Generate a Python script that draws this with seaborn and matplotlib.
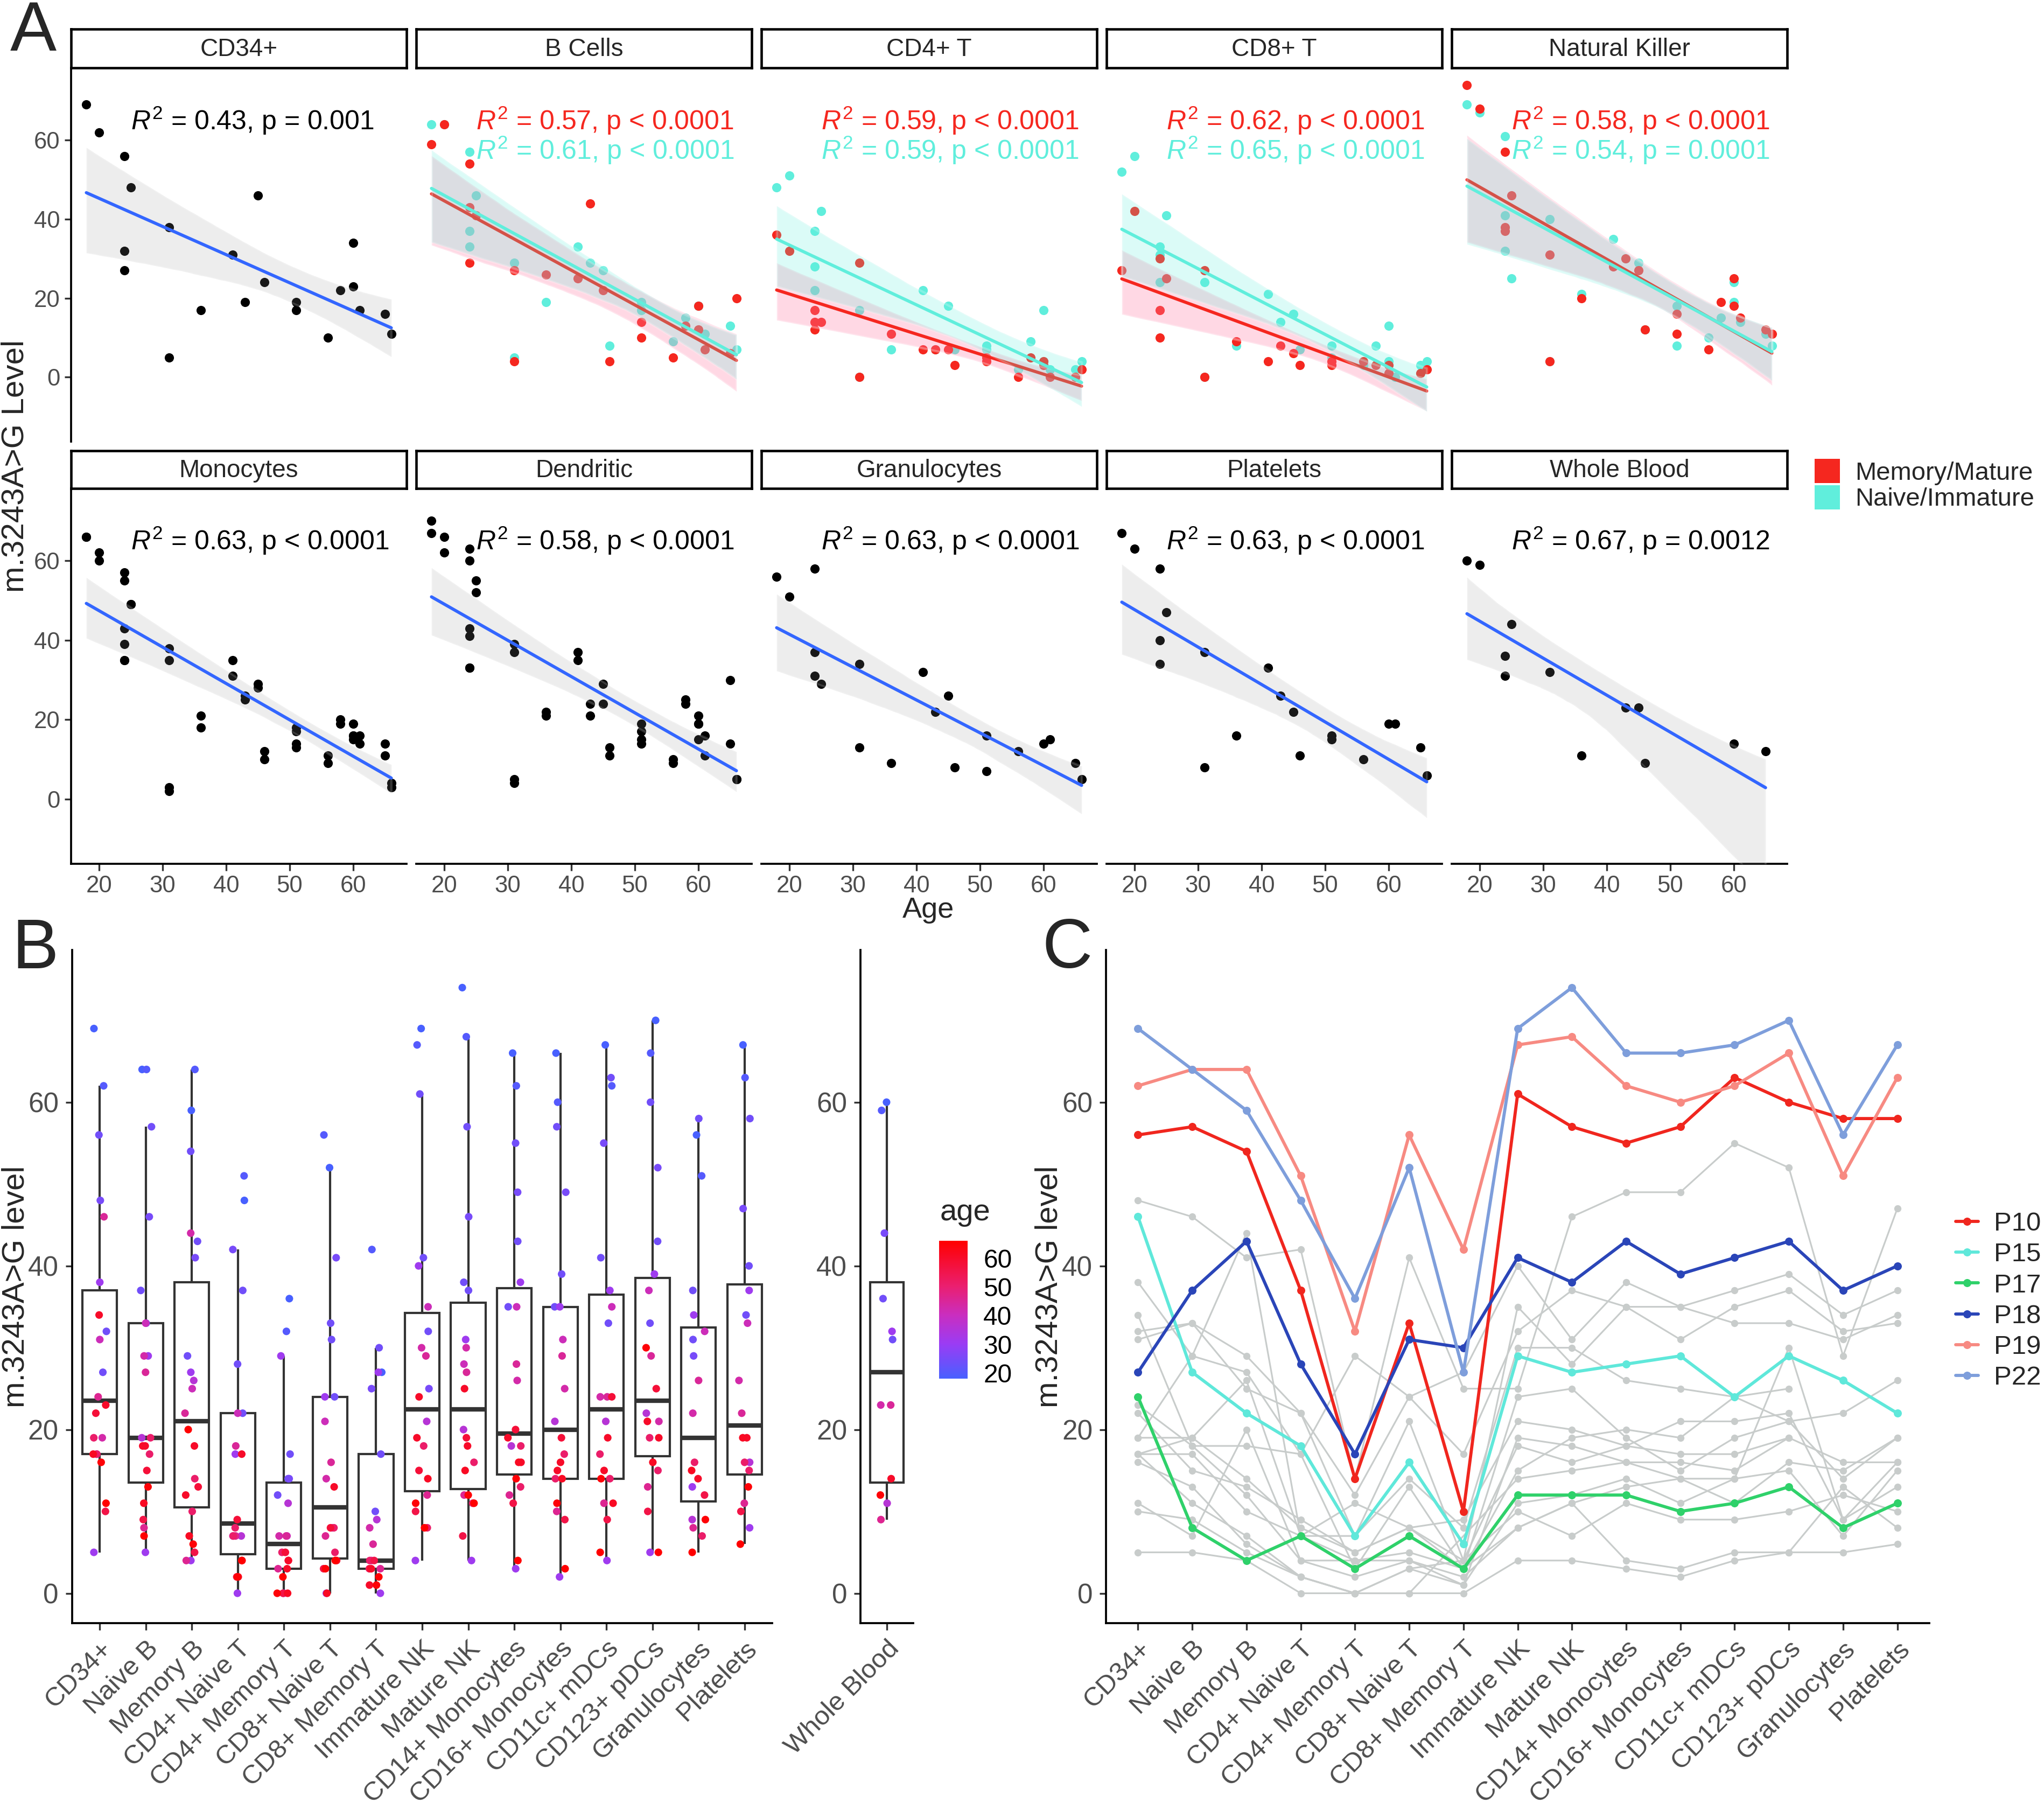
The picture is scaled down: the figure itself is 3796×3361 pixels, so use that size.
import numpy as np
import pandas as pd
import matplotlib
matplotlib.use("Agg")
import matplotlib.pyplot as plt
import seaborn as sns
from matplotlib.colors import LinearSegmentedColormap, Normalize
from matplotlib.cm import ScalarMappable
from matplotlib.patches import Patch
from matplotlib.lines import Line2D

sns.set_theme(style="white")
plt.rcParams["font.family"] = ["Liberation Sans", "DejaVu Sans"]
plt.rcParams["mathtext.fontset"] = "custom"
plt.rcParams["mathtext.rm"] = "Liberation Sans"
plt.rcParams["mathtext.it"] = "Liberation Sans:italic"

nan = np.nan
# ---------------- data ----------------
patients = ["P22", "P19", "P10", "P18", "P1", "P2", "P3", "P4", "P5", "P6", "P7",
            "P15", "P17", "P8", "P9", "P11", "P12", "P13", "P14", "P16", "P20", "P21"]
ages = [18, 20, 24, 24, 24, 25, 31, 31, 36, 41, 43, 45, 46, 51, 51, 56, 58, 60, 60, 61, 65, 66]

cd34 = [69, 62, 56, 27, 32, 48, 38, 5, 17, 31, 19, 46, 24, 19, 17, 10, 22, 34, 23, 17, 16, 11]
naive_b = [64, 64, 57, 37, 33, 46, 29, 5, 19, 33, 29, 27, 8, 19, 17, 9, 15, 18, 18, 11, 13, 7]
memory_b = [59, 64, 54, 43, 29, 41, 27, 4, 26, 25, 44, 22, 4, 14, 10, 5, 13, 18, 12, 7, 6, 20]
cd4_naive = [48, 51, 37, 28, 22, 42, 17, 0, 7, 22, 7, 18, 7, 8, 7, 2, 9, 17, 4, 2, 2, 4]
cd4_memory = [36, 32, 14, 17, 12, 14, 29, 0, 11, 7, 7, 7, 3, 5, 4, 0, 5, 3, 4, 0, 0, 2]
cd8_naive = [52, 56, 33, 31, 24, 41, 24, 0, 8, 21, 14, 16, 7, 8, 5, 3, 8, 13, 4, 0, 3, 4]
cd8_memory = [27, 42, 10, 30, 17, 25, 27, 0, 9, 4, 8, 6, 3, 4, 3, 4, 3, 3, 1, nan, 1, 2]
imm_nk = [69, 67, 61, 41, 32, 25, 40, 4, 21, 35, 30, 29, 12, 18, 8, 10, 15, 24, 19, 14, 11, 8]
mat_nk = [74, 68, 57, 38, 37, 46, 31, 4, 20, 28, 30, 27, 12, 16, 11, 7, 19, 25, 18, 15, 12, 11]
cd14 = [66, 62, 55, 43, 35, 49, 38, 3, 18, 35, 26, 28, 12, 18, 13, 11, 20, 19, 16, 16, 14, 4]
cd16 = [66, 60, 57, 39, 35, 49, 35, 2, 21, 31, 25, 29, 10, 17, 14, 9, 19, 15, 16, 14, 11, 3]
cd11c = [67, 62, 63, 41, 33, 55, 37, 4, 21, 35, 24, 24, 11, 17, 14, 9, 24, 19, 15, 11, 14, 5]
cd123 = [70, 66, 60, 43, 33, 52, 39, 5, 22, 37, 21, 29, 13, 19, 15, 10, 25, 21, 19, 16, 30, 5]
gran = [56, 51, 58, 37, 31, 29, 34, 13, 9, 32, 22, 26, 8, 16, 7, 12, nan, 14, nan, 15, 9, 5]
plat = [67, 63, 58, 40, 34, 47, 37, 8, 16, 33, 26, 22, 11, 16, 15, 10, nan, 19, nan, 19, 13, 6]
whole_blood = [60, 59, nan, 36, 31, 44, 32, nan, 11, nan, 23, 23, 9, nan, nan, nan, nan, 14, nan, nan, 12, nan]

cell_types = ["CD34+", "Naive B", "Memory B", "CD4+ Naive T", "CD4+ Memory T", "CD8+ Naive T",
              "CD8+ Memory T", "Immature NK", "Mature NK", "CD14+ Monocytes", "CD16+ Monocytes",
              "CD11c+ mDCs", "CD123+ pDCs", "Granulocytes", "Platelets"]
columns = [cd34, naive_b, memory_b, cd4_naive, cd4_memory, cd8_naive, cd8_memory, imm_nk, mat_nk,
           cd14, cd16, cd11c, cd123, gran, plat]

facet_titles = ["CD34+", "B Cells", "CD4+ T", "CD8+ T", "Natural Killer",
                "Monocytes", "Dendritic", "Granulocytes", "Platelets", "Whole Blood"]
facet_members = [
    [("CD34+", None)],
    [("Memory B", "Memory/Mature"), ("Naive B", "Naive/Immature")],
    [("CD4+ Memory T", "Memory/Mature"), ("CD4+ Naive T", "Naive/Immature")],
    [("CD8+ Memory T", "Memory/Mature"), ("CD8+ Naive T", "Naive/Immature")],
    [("Mature NK", "Memory/Mature"), ("Immature NK", "Naive/Immature")],
    [("CD14+ Monocytes", None), ("CD16+ Monocytes", None)],
    [("CD11c+ mDCs", None), ("CD123+ pDCs", None)],
    [("Granulocytes", None)],
    [("Platelets", None)],
    [("Whole Blood", None)],
]
facet_stats = [
    ["$R^2$ = 0.43, p = 0.001"],
    ["$R^2$ = 0.57, p < 0.0001", "$R^2$ = 0.61, p < 0.0001"],
    ["$R^2$ = 0.59, p < 0.0001", "$R^2$ = 0.59, p < 0.0001"],
    ["$R^2$ = 0.62, p < 0.0001", "$R^2$ = 0.65, p < 0.0001"],
    ["$R^2$ = 0.58, p < 0.0001", "$R^2$ = 0.54, p = 0.0001"],
    ["$R^2$ = 0.63, p < 0.0001"],
    ["$R^2$ = 0.58, p < 0.0001"],
    ["$R^2$ = 0.63, p < 0.0001"],
    ["$R^2$ = 0.63, p < 0.0001"],
    ["$R^2$ = 0.67, p = 0.0012"],
]
highlight = ["P10", "P15", "P17", "P18", "P19", "P22"]
highlight_colors = ["#F0261E", "#5FE8DA", "#2FD16A", "#2A45B8", "#F78A82", "#7E9EDB"]

# ---------------- tidy table ----------------
rows = []
for cname, col in zip(cell_types + ["Whole Blood"], columns + [whole_blood]):
    for p, a, v in zip(patients, ages, col):
        if not np.isnan(v):
            rows.append((p, a, cname, float(v)))
df = pd.DataFrame(rows, columns=["patient", "age", "cell", "value"])
df["pos"] = df["cell"].map({c: i for i, c in enumerate(cell_types)})

# ---------------- figure ----------------
W, H = 3796, 3361
fig = plt.figure(figsize=(W / 300, H / 300), dpi=300)

def fax(x0, y0, x1, y1):
    return fig.add_axes([x0 / W, 1 - y1 / H, (x1 - x0) / W, (y1 - y0) / H])

RED = "#F5271F"
CYAN = "#60EEDC"
BAND = {"Memory/Mature": ("#FF7FA8", 0.30), "Naive/Immature": ("#5FEFDD", 0.22)}
GCOL = {"Memory/Mature": RED, "Naive/Immature": CYAN}
TICKC = "#4D4D4D"

A_YLIM = (-16.3, 78.2)
lefts = [132 + 641 * i for i in range(5)]
row_y = [(127, 820), (907, 1604)]
strip_y = [(54, 126), (837, 907)]

for k, title in enumerate(facet_titles):
    r, c = divmod(k, 5)
    x0 = lefts[c]
    x1 = x0 + 623
    ax = fax(x0, row_y[r][0], x1, row_y[r][1])
    members = facet_members[k]
    sub = df[df["cell"].isin([m[0] for m in members])].copy()
    grp_map = {m[0]: m[1] for m in members}
    sub["group"] = sub["cell"].map(grp_map)
    if members[0][1] is None:
        sns.scatterplot(data=sub, x="age", y="value", color="black", s=17, linewidth=0,
                        ax=ax, legend=False, zorder=2)
        sns.regplot(data=sub, x="age", y="value", scatter=False, color="#3366FF", ci=95,
                    seed=1, n_boot=4000, ax=ax, line_kws={"lw": 1.4})
        band = ax.collections[-1]
        band.set_facecolor("#999999"); band.set_alpha(0.17); band.set_zorder(3)
        ax.lines[-1].set_zorder(4)
        ax.text(25, 65, facet_stats[k][0], fontsize=12, color="black", ha="left", va="center", zorder=6)
    else:
        for g in ["Naive/Immature", "Memory/Mature"]:
            sg = sub[sub["group"] == g]
            sns.scatterplot(data=sg, x="age", y="value", color=GCOL[g], s=17, linewidth=0,
                            ax=ax, legend=False, zorder=2)
        z = 3
        for g in ["Memory/Mature", "Naive/Immature"]:
            sg = sub[sub["group"] == g]
            sns.regplot(data=sg, x="age", y="value", scatter=False, color=GCOL[g], ci=95,
                        seed=1, n_boot=4000, ax=ax, line_kws={"lw": 1.4})
            band = ax.collections[-1]
            band.set_facecolor(BAND[g][0]); band.set_alpha(BAND[g][1]); band.set_zorder(z)
            ax.lines[-1].set_zorder(z + 1)
            z += 2
        ax.text(25, 65, facet_stats[k][0], fontsize=12, color=RED, ha="left", va="center", zorder=9)
        ax.text(25, 57.5, facet_stats[k][1], fontsize=12, color=CYAN, ha="left", va="center", zorder=9)
    ax.set_xlim(15.6, 68.4)
    ax.set_ylim(*A_YLIM)
    ax.set_xticks([20, 30, 40, 50, 60])
    ax.set_yticks([0, 20, 40, 60])
    ax.set_xlabel(""); ax.set_ylabel("")
    ax.set_facecolor("white")
    for s in ["top", "right"]:
        ax.spines[s].set_visible(False)
    ax.spines["left"].set_visible(c == 0)
    ax.spines["bottom"].set_visible(r == 1)
    for s in ["left", "bottom"]:
        ax.spines[s].set_color("black"); ax.spines[s].set_linewidth(0.9)
    ax.tick_params(axis="y", left=(c == 0), labelleft=(c == 0), length=3, width=0.8,
                   color="#333333", labelcolor=TICKC, labelsize=10.5, pad=2)
    ax.tick_params(axis="x", bottom=(r == 1), labelbottom=(r == 1), length=3, width=0.8,
                   color="#333333", labelcolor=TICKC, labelsize=10.5, pad=2)
    # strip
    sax = fax(x0, strip_y[r][0], x1, strip_y[r][1])
    sax.set_xticks([]); sax.set_yticks([])
    sax.set_facecolor("white")
    for s in sax.spines.values():
        s.set_visible(True); s.set_color("black"); s.set_linewidth(1.1)
    sax.text(0.5, 0.47, title, transform=sax.transAxes, ha="center", va="center", fontsize=11)

fig.text(29 / W, 1 - 865 / H, "m.3243A>G Level", rotation=90, ha="center", va="center", fontsize=14)
fig.text(1724 / W, 1 - 1690 / H, "Age", ha="center", va="center", fontsize=13)
fig.legend(handles=[Patch(facecolor=RED, edgecolor="none", label="Memory/Mature"),
                    Patch(facecolor=CYAN, edgecolor="none", label="Naive/Immature")],
           loc="upper left", bbox_to_anchor=(3370 / W, 1 - 852 / H), frameon=False,
           handlelength=1.0, handleheight=1.1, handletextpad=0.6, labelspacing=0.0,
           borderaxespad=0, borderpad=0, fontsize=11.3)

# ---------------- panel B ----------------
age_cmap = LinearSegmentedColormap.from_list(
    "age", [(0.0, "#4860FF"), (0.25, "#9A3CF4"), (0.46, "#C92EC0"), (0.67, "#EA1F70"), (1.0, "#FF0000")])
age_norm = Normalize(18, 66)
B_YLIM = (-3.65, 78.6)

np.random.seed(7)
cells_df = df[df["cell"] != "Whole Blood"]
axB = fax(134, 1764, 1434, 3014)
sns.boxplot(data=cells_df, x="cell", y="value", order=cell_types, ax=axB, color="white",
            linecolor="#333333", linewidth=1.0, width=0.75, showfliers=False, showcaps=False,
            medianprops={"linewidth": 2.0})
sns.stripplot(data=cells_df, x="cell", y="value", order=cell_types, hue="age", palette=age_cmap,
              hue_norm=age_norm, jitter=0.15, size=3.4, linewidth=0, ax=axB, legend=False, zorder=3)
axB.set_xlim(-0.6, 14.6)
axB.set_ylim(*B_YLIM)

wb_df = df[df["cell"] == "Whole Blood"]
axW = fax(1598, 1764, 1696, 3014)
sns.boxplot(data=wb_df, x="cell", y="value", order=["Whole Blood"], ax=axW, color="white",
            linecolor="#333333", linewidth=1.0, width=0.75, showfliers=False, showcaps=False,
            medianprops={"linewidth": 2.0})
sns.stripplot(data=wb_df, x="cell", y="value", order=["Whole Blood"], hue="age", palette=age_cmap,
              hue_norm=age_norm, jitter=0.15, size=3.4, linewidth=0, ax=axW, legend=False, zorder=3)
axW.set_xlim(-0.6, 0.6)
axW.set_ylim(*B_YLIM)

# ---------------- panel C ----------------
axC = fax(2054, 1764, 3583, 3014)
gray_df = cells_df[~cells_df["patient"].isin(highlight)]
hl_df = cells_df[cells_df["patient"].isin(highlight)]
sns.lineplot(data=gray_df, x="pos", y="value", units="patient", estimator=None, color="#C8CCCB",
             lw=0.75, marker="o", markersize=3.2, markeredgewidth=0, ax=axC, legend=False, sort=True)
sns.lineplot(data=hl_df, x="pos", y="value", hue="patient", hue_order=highlight,
             palette=dict(zip(highlight, highlight_colors)), estimator=None, lw=1.4, marker="o",
             markersize=3.6, markeredgewidth=0, ax=axC, legend=False, sort=True)
axC.set_xlim(-0.59, 14.59)
axC.set_ylim(*B_YLIM)
axC.set_xticks(range(len(cell_types)))
axC.set_xticklabels(cell_types)
fig.legend(handles=[Line2D([], [], color=c, lw=1.4, marker="o", markersize=3.6, markeredgewidth=0, label=p)
                    for p, c in zip(highlight, highlight_colors)],
           loc="upper left", bbox_to_anchor=(3632 / W, 1 - 2250 / H), frameon=False,
           handlelength=0.85, handletextpad=0.6, labelspacing=0.25, borderaxespad=0, borderpad=0,
           fontsize=11.8)

for ax in [axB, axW, axC]:
    ax.set_xlabel(""); ax.set_ylabel("")
    ax.set_yticks([0, 20, 40, 60])
    ax.set_facecolor("white")
    for s in ["top", "right"]:
        ax.spines[s].set_visible(False)
    for s in ["left", "bottom"]:
        ax.spines[s].set_visible(True); ax.spines[s].set_color("black"); ax.spines[s].set_linewidth(0.9)
    ax.tick_params(axis="y", length=3, width=0.8, color="#333333", labelcolor=TICKC,
                   labelsize=12.3, pad=3, left=True)
    ax.tick_params(axis="x", length=3, width=0.8, color="#333333", labelcolor=TICKC,
                   labelsize=11.8, pad=3, bottom=True)
    for lbl in ax.get_xticklabels():
        lbl.set_rotation(45); lbl.set_ha("right"); lbl.set_va("top"); lbl.set_rotation_mode("anchor")

fig.text(30 / W, 1 - 2389 / H, "m.3243A>G level", rotation=90, ha="center", va="center", fontsize=14)
fig.text(1948 / W, 1 - 2389 / H, "m.3243A>G level", rotation=90, ha="center", va="center", fontsize=14)

# colorbar
cax = fax(1744, 2304, 1797, 2560)
cb = fig.colorbar(ScalarMappable(norm=age_norm, cmap=age_cmap), cax=cax)
cb.set_ticks([20, 30, 40, 50, 60])
cb.outline.set_visible(False)
cax.tick_params(axis="y", direction="in", color="white", length=5, width=0.8, left=True, right=True,
                labelleft=False, labelright=True, labelsize=11.5, labelcolor="black", pad=7)
fig.text(1746 / W, 1 - 2252 / H, "age", ha="left", va="center", fontsize=13.5)

# panel letters
fig.text(19 / W, 1 - 60 / H, "A", ha="left", va="center", fontsize=31)
fig.text(22 / W, 1 - 1764 / H, "B", ha="left", va="center", fontsize=31)
fig.text(1935 / W, 1 - 1764 / H, "C", ha="left", va="center", fontsize=31)

fig.savefig("out.png", dpi=300, facecolor="white")
